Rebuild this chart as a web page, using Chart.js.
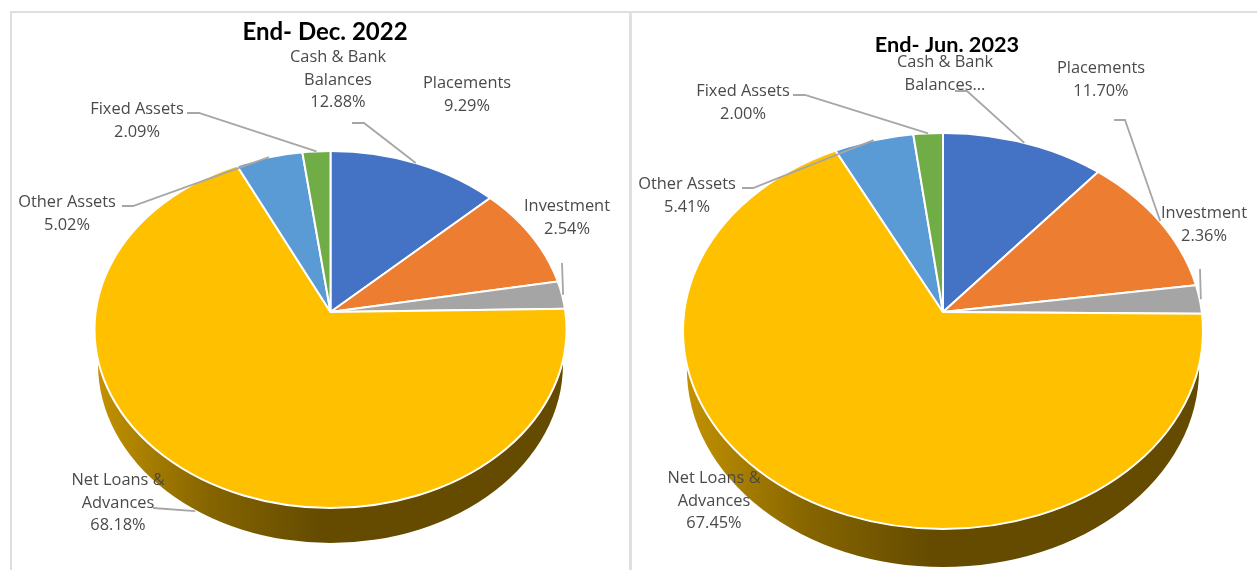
<!DOCTYPE html>
<html>
<head>
<meta charset="utf-8">
<title>End- Dec. 2022 / End- Jun. 2023</title>
<script src="https://cdn.jsdelivr.net/npm/chart.js"></script>
<style>
  html, body { margin: 0; padding: 0; background: #fff; overflow: hidden; width: 1257px; height: 570px; }
  #frame { position: absolute; left: 10px; top: 11px; width: 1247px; height: 559px; box-sizing: border-box;
           border-top: 2px solid #dedede; border-left: 2px solid #dedede; }
  #divider { position: absolute; left: 629px; top: 11px; width: 3px; height: 559px; background: #e0e0e0; }
  canvas { position: absolute; top: 0; }
</style>
</head>
<body>
<div id="frame"></div>
<div id="divider"></div>
<canvas id="dec" width="630" height="640" style="left:0"></canvas>
<canvas id="jun" width="626" height="640" style="left:631px"></canvas>
<script>
// Chart data
const categories = ['Cash & Bank Balances', 'Placements', 'Investment', 'Net Loans & Advances', 'Other Assets', 'Fixed Assets'];
const dec2022 = [12.88, 9.29, 2.54, 68.18, 5.02, 2.09];
const jun2023 = [11.08, 11.70, 2.36, 67.45, 5.41, 2.00];
const sliceColors = ['#4472c4', '#ed7d31', '#a5a5a5', '#ffc000', '#5b9bd5', '#70ad47'];
const wrappedNames = [['Cash & Bank', 'Balances'], ['Placements'], ['Investment'], ['Net Loans &', 'Advances'], ['Other Assets'], ['Fixed Assets']];

const LABEL_FONT = '16.4px "Open Sans"';
const TEXT_COLOR = '#4a4a4a';
const LEADER_COLOR = '#a6a6a6';
const NET_LOANS = 3;

// Perspective of a tilted disc: the apex sits above the ellipse centre.
// up/down are the apex-to-rim distances on screen.
function perspective(view) {
  view.p = (view.down - view.up) / (view.down + view.up);
  view.ry = view.down * (1 - view.p);
  view.ellipseA = view.radius;
  view.ellipseB = (view.up + view.down) / 2;
  view.ellipseDrop = (view.down - view.up) / 2;
  return view;
}

function rimPoint(view, angle) {
  const w = 1 - view.p * Math.sin(angle);
  return {
    x: view.cx + view.radius * Math.cos(angle) / w,
    y: view.cy + view.ry * Math.sin(angle) / w
  };
}

// Screen direction of a slice edge, kept on the same turn as the input angle
function screenAngle(view, angle) {
  let t = Math.atan2(view.ry * Math.sin(angle), view.radius * Math.cos(angle));
  while (t < angle - Math.PI) t += 2 * Math.PI;
  while (t > angle + Math.PI) t -= 2 * Math.PI;
  return t;
}

// Same arc element, just aimed along the tilted directions and long enough to reach the rim
function tiltedArc(arc, view) {
  const copy = Object.create(arc);
  copy.startAngle = screenAngle(view, arc.startAngle);
  copy.endAngle = screenAngle(view, arc.endAngle);
  copy.circumference = copy.endAngle - copy.startAngle;
  copy.outerRadius = arc.outerRadius * 1.4;
  return copy;
}

function drawPie(chart, view) {
  const ctx = chart.ctx;
  const arcs = chart.getDatasetMeta(0).data;
  const { cx, cy } = view;
  const midY = cy + view.ellipseDrop;

  // side wall, only the big slice shows at the front
  const wallFill = ctx.createLinearGradient(cx - view.radius, 0, cx - 10, 0);
  wallFill.addColorStop(0, '#c49300');
  wallFill.addColorStop(0.5, '#866500');
  wallFill.addColorStop(1, '#644b00');
  const wall = tiltedArc(arcs[NET_LOANS], view);
  wall.options = { ...arcs[NET_LOANS].options, backgroundColor: wallFill, borderWidth: 0 };
  ctx.save();
  ctx.translate(0, view.wallDepth);
  ctx.beginPath();
  ctx.ellipse(cx, midY, view.ellipseA * view.wallShrink, view.ellipseB, 0, 0, 2 * Math.PI);
  ctx.clip();
  wall.draw(ctx);
  ctx.restore();

  // top face
  ctx.save();
  ctx.beginPath();
  ctx.ellipse(cx, midY, view.ellipseA, view.ellipseB, 0, 0, 2 * Math.PI);
  ctx.clip();
  arcs.forEach(arc => tiltedArc(arc, view).draw(ctx));
  ctx.restore();

  // white rim
  ctx.save();
  ctx.strokeStyle = '#fff';
  ctx.lineWidth = 2;
  ctx.beginPath();
  ctx.ellipse(cx, midY, view.ellipseA, view.ellipseB, 0, 0, 2 * Math.PI);
  ctx.stroke();
  ctx.restore();
}

// Leader lines go from the label to the middle of the slice rim
function drawLeaders(chart, view) {
  const ctx = chart.ctx;
  const arcs = chart.getDatasetMeta(0).data;
  ctx.save();
  ctx.strokeStyle = LEADER_COLOR;
  ctx.lineWidth = 1.8;
  view.leaders.forEach((points, i) => {
    if (!points) return;
    const arc = arcs[i];
    const end = rimPoint(view, (arc.startAngle + arc.endAngle) / 2);
    const drop = i === NET_LOANS ? view.wallDepth : 0;
    ctx.beginPath();
    points.forEach((p, n) => n ? ctx.lineTo(p[0], p[1]) : ctx.moveTo(p[0], p[1]));
    ctx.lineTo(end.x, end.y + drop);
    ctx.stroke();
  });
  ctx.restore();
}

function drawTexts(chart, view, values) {
  const ctx = chart.ctx;
  ctx.save();
  ctx.textAlign = 'center';
  ctx.textBaseline = 'middle';
  ctx.fillStyle = '#000';
  ctx.font = view.titleFont;
  ctx.fillText(view.title, view.titleAt[0], view.titleAt[1]);
  ctx.fillStyle = TEXT_COLOR;
  ctx.font = LABEL_FONT;
  values.forEach((v, i) => {
    let lines = wrappedNames[i].concat(v.toFixed(2) + '%');
    if (view.truncated === i) lines = [wrappedNames[i][0], wrappedNames[i][1] + '...'];
    const at = view.labelAt[i];
    lines.forEach((line, n) => ctx.fillText(line, at[0], at[1] + n * 22.9));
  });
  ctx.restore();
}

function makePie(canvasId, values, view) {
  const R = view.radius;
  const canvas = document.getElementById(canvasId);
  perspective(view);
  new Chart(canvas.getContext('2d'), {
    type: 'pie',
    data: {
      labels: categories,
      datasets: [{ data: values, backgroundColor: sliceColors, borderColor: '#fff', borderWidth: 2 }]
    },
    options: {
      responsive: false,
      animation: false,
      layout: {
        padding: {
          left: view.cx - R - 1,
          right: canvas.width - view.cx - R - 1,
          top: view.cy - R - 1,
          bottom: canvas.height - view.cy - R - 1
        }
      },
      plugins: { legend: { display: false }, tooltip: { enabled: false } }
    },
    plugins: [{
      id: 'tiltedPie',
      beforeDatasetsDraw(chart) {
        drawPie(chart, view);
        return false;
      },
      afterDraw(chart) {
        drawLeaders(chart, view);
        drawTexts(chart, view, values);
      }
    }]
  });
}

makePie('dec', dec2022, {
  title: 'End- Dec. 2022',
  titleFont: 'bold 24px Lato',
  titleAt: [325, 32],
  cx: 330.5, cy: 312, radius: 236,
  up: 161, down: 196,
  wallDepth: 35, wallShrink: 0.985,
  labelAt: [[338, 57], [467, 83], [567, 206], [118, 480], [67, 202], [137, 109]],
  leaders: [
    [[352, 123], [364, 123]],
    null,
    [[562, 263]],
    [[153, 508]],
    [[122, 206], [133, 206]],
    [[187, 113], [199, 113]]
  ]
});

makePie('jun', jun2023, {
  title: 'End- Jun. 2023',
  titleFont: 'bold 21.7px Lato',
  titleAt: [316, 45],
  cx: 312, cy: 312, radius: 260,
  up: 179, down: 217,
  wallDepth: 38, wallShrink: 0.985,
  truncated: 0,
  labelAt: [[314, 62], [470, 68], [573, 213], [83, 478], [56, 184], [112, 91]],
  leaders: [
    [[324, 91], [336, 91]],
    [[483, 120], [494, 120]],
    [[569, 269]],
    null,
    [[111, 188], [122, 188]],
    [[162, 95], [174, 95]]
  ]
});
</script>
</body>
</html>
